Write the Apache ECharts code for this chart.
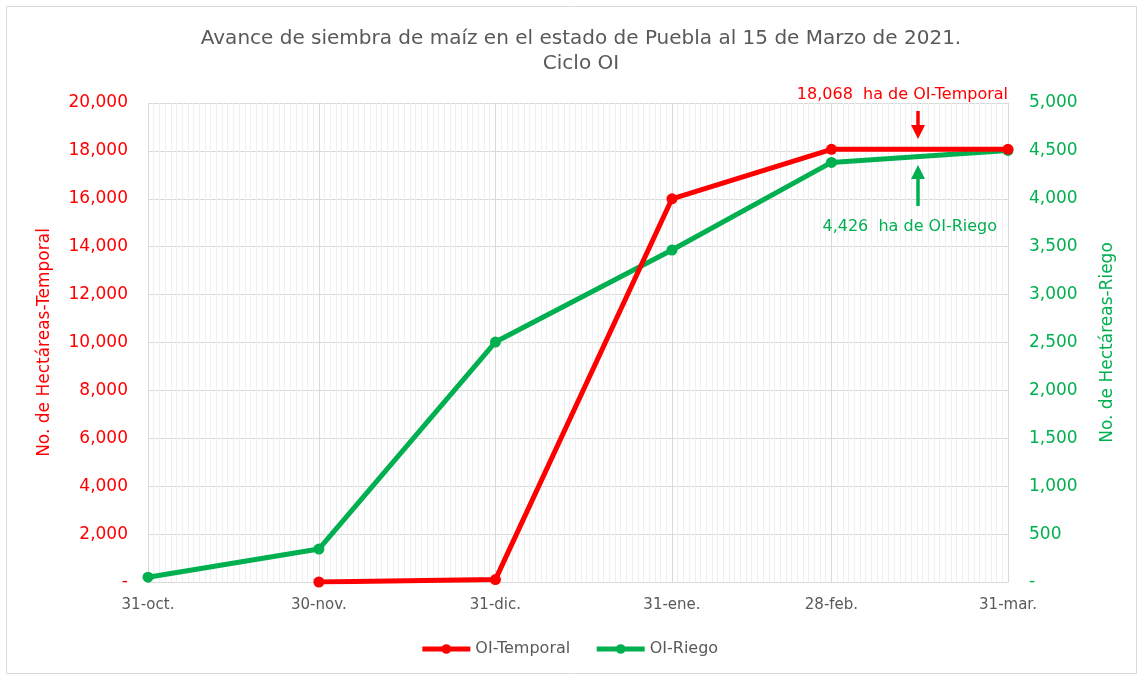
<!DOCTYPE html>
<html>
<head>
<meta charset="utf-8">
<script src="https://cdn.jsdelivr.net/npm/echarts@6/dist/echarts.min.js"></script>
<style>
  html, body { margin: 0; padding: 0; background: #fff; }
  #main { width: 1138px; height: 675px; }
</style>
</head>
<body>
<div id="main"></div>
<script>
// fechas de corte y superficie sembrada (ha)
const fechas = ['31-oct.', '30-nov.', '31-dic.', '31-ene.', '28-feb.', '31-mar.'];
const temporal = [null, 0, 100, 16000, 18068, 18068];
const riego = [50, 344, 2505, 3465, 4380, 4505];
const ticksTemporal = [0, 20000, 2000];
const ticksRiego = [0, 5000, 500];

const meses = ['ene.', 'feb.', 'mar.', 'abr.', 'may.', 'jun.', 'jul.', 'ago.', 'sep.', 'oct.', 'nov.', 'dic.'];

// un dia por categoria, del 31 de octubre al 31 de marzo
const dias = [];
for (let d = new Date(2020, 9, 31); d <= new Date(2021, 2, 31); d.setDate(d.getDate() + 1)) {
  dias.push(d.getDate() + '-' + meses[d.getMonth()]);
}
const esFecha = (i) => fechas.indexOf(dias[i]) >= 0;

const fmt = (v) => v === 0 ? '-' : v.toLocaleString('en-US');
const fuente = 'DejaVu Sans';

var myChart = echarts.init(document.getElementById('main'));

myChart.setOption({
  animation: false,
  textStyle: { fontFamily: fuente },
  title: {
    text: 'Avance de siembra de maíz en el estado de Puebla al 15 de Marzo de 2021.\nCiclo OI',
    left: 576,
    textAlign: 'center',
    top: 21,
    textStyle: { fontSize: 20, fontWeight: 'normal', color: '#595959', lineHeight: 25, fontFamily: fuente }
  },
  legend: {
    bottom: 13,
    left: 'center',
    itemWidth: 48,
    itemHeight: 12,
    itemGap: 24,
    lineStyle: { width: 5 },
    textStyle: { fontSize: 16, color: '#595959' },
    data: ['OI-Temporal', 'OI-Riego']
  },
  grid: { left: 148, right: 130, top: 103, bottom: 93 },
  xAxis: [
    {
      type: 'category',
      data: dias,
      boundaryGap: false,
      axisLine: { lineStyle: { color: '#d9d9d9' } },
      axisTick: { show: false },
      axisLabel: {
        interval: (i) => esFecha(i),
        color: '#595959',
        fontSize: 15,
        margin: 16
      },
      splitLine: { show: true, interval: (i) => esFecha(i), lineStyle: { color: '#d9d9d9', width: 1 } },
      z: 3
    },
    {
      type: 'category',
      data: dias,
      boundaryGap: false,
      position: 'bottom',
      axisLine: { show: false },
      axisTick: { show: false },
      axisLabel: { show: false },
      splitLine: { show: true, interval: 0, lineStyle: { color: '#efefef', width: 1 } },
      z: 1
    }
  ],
  yAxis: [
    {
      type: 'value',
      min: ticksTemporal[0],
      max: ticksTemporal[1],
      interval: ticksTemporal[2],
      name: 'No. de Hectáreas-Temporal',
      nameLocation: 'middle',
      nameGap: 95,
      nameTextStyle: { color: '#ff0000', fontSize: 17 },
      axisLine: { show: false },
      axisTick: { show: false },
      axisLabel: { color: '#ff0000', fontSize: 17, margin: 20, formatter: fmt },
      splitLine: { show: true, lineStyle: { color: '#d9d9d9' } }
    },
    {
      type: 'value',
      min: ticksRiego[0],
      max: ticksRiego[1],
      interval: ticksRiego[2],
      name: 'No. de Hectáreas-Riego',
      nameLocation: 'middle',
      nameGap: 91,
      nameTextStyle: { color: '#00b050', fontSize: 17 },
      axisLine: { show: true, lineStyle: { color: '#d9d9d9' } },
      axisTick: { show: false },
      axisLabel: { color: '#00b050', fontSize: 17, margin: 21, formatter: fmt },
      splitLine: { show: false }
    }
  ],
  series: [
    {
      name: 'OI-Temporal',
      type: 'line',
      yAxisIndex: 0,
      data: fechas.map((f, i) => [f, temporal[i]]).filter(p => p[1] !== null),
      symbol: 'circle',
      symbolSize: 11,
      lineStyle: { color: '#ff0000', width: 5 },
      itemStyle: { color: '#ff0000' },
      z: 5
    },
    {
      name: 'OI-Riego',
      type: 'line',
      yAxisIndex: 1,
      data: fechas.map((f, i) => [f, riego[i]]),
      symbol: 'circle',
      symbolSize: 11,
      lineStyle: { color: '#00b050', width: 5 },
      itemStyle: { color: '#00b050' },
      z: 4
    }
  ],
  graphic: [
    {
      type: 'rect',
      shape: { x: 6.5, y: 6.5, width: 1130, height: 667 },
      style: { fill: 'none', stroke: '#d9d9d9', lineWidth: 1 },
      silent: true
    },
    {
      type: 'text',
      z: 100,
      x: 1008,
      y: 87,
      style: { text: '18,068  ha de OI-Temporal', fill: '#ff0000', fontSize: 16, fontFamily: fuente, align: 'right' }
    },
    {
      type: 'text',
      z: 100,
      x: 997,
      y: 219,
      style: { text: '4,426  ha de OI-Riego', fill: '#00b050', fontSize: 16, fontFamily: fuente, align: 'right' }
    },
    // flecha roja hacia abajo
    {
      type: 'line',
      z: 100,
      shape: { x1: 918, y1: 111, x2: 918, y2: 128 },
      style: { stroke: '#ff0000', lineWidth: 3.5 }
    },
    {
      type: 'polygon',
      z: 100,
      shape: { points: [[911, 125], [925, 125], [918, 139]] },
      style: { fill: '#ff0000' }
    },
    // flecha verde hacia arriba
    {
      type: 'line',
      z: 100,
      shape: { x1: 918, y1: 206, x2: 918, y2: 176 },
      style: { stroke: '#00b050', lineWidth: 3.5 }
    },
    {
      type: 'polygon',
      z: 100,
      shape: { points: [[911, 179], [925, 179], [918, 165]] },
      style: { fill: '#00b050' }
    }
  ]
});
</script>
</body>
</html>
